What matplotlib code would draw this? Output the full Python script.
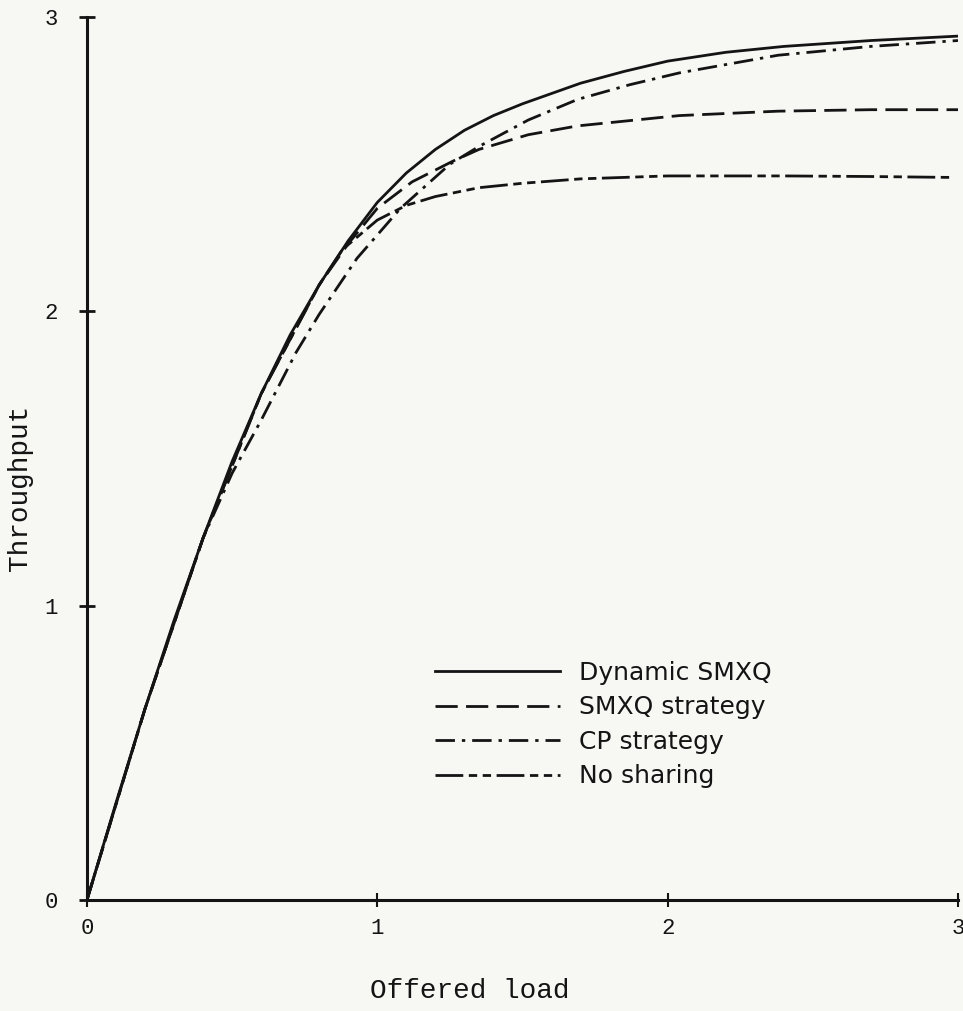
import matplotlib.pyplot as plt

# values
load_dyn = [0, 0.1, 0.2, 0.3, 0.4, 0.5, 0.6, 0.7, 0.8, 0.9, 1.0, 1.1, 1.2, 1.3, 1.4, 1.5, 1.7, 1.85, 2.0, 2.2, 2.4, 2.7, 3.0]
tp_dyn = [0, 0.33, 0.65, 0.95, 1.23, 1.49, 1.72, 1.92, 2.09, 2.24, 2.37, 2.47, 2.55, 2.615, 2.665, 2.705, 2.775, 2.815, 2.85, 2.88, 2.90, 2.92, 2.935]

load_smxq = [0, 0.2, 0.4, 0.6, 0.8, 0.9, 1.0, 1.12, 1.26, 1.35, 1.52, 1.69, 2.04, 2.38, 2.7, 3.0]
tp_smxq = [0, 0.65, 1.23, 1.72, 2.09, 2.23, 2.35, 2.44, 2.51, 2.55, 2.60, 2.63, 2.665, 2.68, 2.685, 2.685]

load_cp = [0, 0.2, 0.4, 0.5, 0.6, 0.72, 0.8, 0.93, 1.08, 1.25, 1.35, 1.52, 1.69, 1.87, 2.04, 2.38, 2.7, 3.0]
tp_cp = [0, 0.65, 1.23, 1.45, 1.63, 1.86, 1.99, 2.18, 2.35, 2.50, 2.56, 2.65, 2.72, 2.77, 2.81, 2.87, 2.90, 2.92]

load_none = [0, 0.2, 0.4, 0.6, 0.8, 0.88, 1.0, 1.1, 1.2, 1.35, 1.5, 1.7, 2.0, 2.4, 2.7, 2.97]
tp_none = [0, 0.65, 1.23, 1.72, 2.09, 2.21, 2.31, 2.36, 2.39, 2.42, 2.435, 2.45, 2.46, 2.46, 2.458, 2.455]

labels = ["Dynamic SMXQ", "SMXQ strategy", "CP strategy", "No sharing"]
ticks = [0, 1, 2, 3]

bg = "#f7f7f4"
ink = "#141414"
mono = "Liberation Mono"

fig = plt.figure(figsize=(9.63, 10.11), dpi=100, facecolor=bg)
ax = fig.add_axes([0.0903, 0.1098, 0.9045, 0.8734], facecolor=bg)

lw = 2.0
ax.plot(load_dyn, tp_dyn, color=ink, lw=lw, label=labels[0])
ax.plot(load_smxq, tp_smxq, color=ink, lw=lw, dashes=(8, 3), label=labels[1])
ax.plot(load_cp, tp_cp, color=ink, lw=lw, dashes=(7, 2.5, 1.2, 2.5), label=labels[2])
ax.plot(load_none, tp_none, color=ink, lw=lw, dashes=(10, 2, 3, 2, 3, 2), label=labels[3])

ax.set_xlim(0, 3)
ax.set_ylim(0, 3)
ax.set_xticks(ticks)
ax.set_yticks(ticks)
ax.set_xticklabels([str(t) for t in ticks], fontfamily=mono, fontsize=16, color=ink)
ax.set_yticklabels([str(t) for t in ticks], fontfamily=mono, fontsize=16, color=ink)
ax.tick_params(axis="y", direction="inout", length=12, width=2, pad=15, color=ink)
ax.tick_params(axis="x", direction="inout", length=10, width=1.5, pad=8, color=ink)

for s in ["top", "right"]:
    ax.spines[s].set_visible(False)
for s in ["left", "bottom"]:
    ax.spines[s].set_linewidth(2.2)
    ax.spines[s].set_color(ink)

ax.set_xlabel("Offered load", fontfamily=mono, fontsize=20, color=ink)
ax.xaxis.set_label_coords(0.44, -0.088)
ax.set_ylabel("Throughput", fontfamily=mono, fontsize=20, color=ink)
ax.yaxis.set_label_coords(-0.062, 0.467)

leg = ax.legend(loc="upper left", bbox_to_anchor=(0.3995, 0.2707), frameon=False,
                borderpad=0, borderaxespad=0, handlelength=5.0, handletextpad=0.75,
                labelspacing=0.42, prop={"size": 18})
for t in leg.get_texts():
    t.set_color(ink)

fig.savefig("out.png", dpi=100, facecolor=bg)
